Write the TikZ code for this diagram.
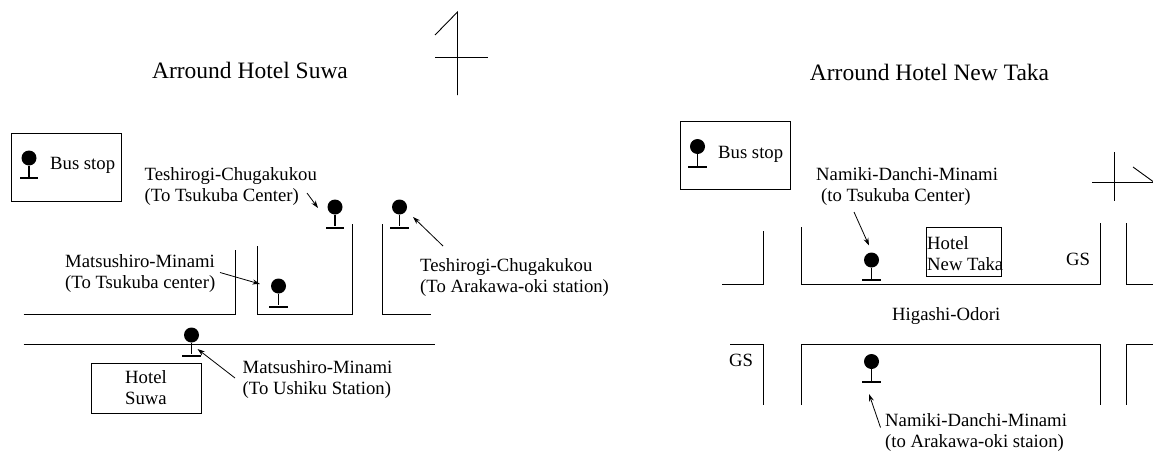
\documentclass[tikz,border=0pt]{standalone}
\usepackage{fontspec}
\setmainfont{Liberation Serif}
\usetikzlibrary{arrows.meta}
\tikzstyle{heading} = [inner sep=0pt, font=\fontsize{23.5}{26}\selectfont]
\tikzstyle{place} = [inner sep=0pt, align=left, anchor=west, font=\fontsize{18.7}{21}\selectfont]
\tikzstyle{hotel} = [draw, line width=0.9pt, inner sep=0pt, align=center, font=\fontsize{18.7}{21}\selectfont]
\tikzstyle{legend} = [draw, line width=0.9pt, inner sep=0pt]
\tikzstyle{stophead} = [circle, fill=black, inner sep=0pt, minimum size=15pt]
\tikzstyle{stopbase} = [rectangle, fill=black, inner sep=0pt, minimum width=18.6pt, minimum height=2pt]
\tikzstyle{pole} = [line width=1.8pt]
\tikzstyle{road} = [line width=0.9pt]
\tikzstyle{arrow} = [line width=0.8pt,-{Stealth[length=7.5pt,width=5pt]}]
\begin{document}
\begin{tikzpicture}[x=1pt,y=-1pt]
                 \useasboundingbox (0,0) rectangle (1153,450);
                 % left map
                 \node [heading] at (250,70) (title1) {Arround Hotel Suwa};
                 \draw [road] (435,35) -- (457.5,12) -- (457.5,95);
                 \draw [road] (435,57) -- (488,57);
                 \node [legend, minimum width=110pt, minimum height=68pt] at (66.7,167) (legend1) {};
                 \node [place] at (50,165) (legendtext1) {Bus stop};
                 \node [stophead] at (29,158) (head1) {};
                 \node [stopbase] at (29,178) (base1) {};
                 \node [stophead] at (335,207) (head2) {};
                 \node [stopbase] at (335,227.5) (base2) {};
                 \node [stophead] at (399.5,207) (head3) {};
                 \node [stopbase] at (399.5,227.5) (base3) {};
                 \node [stophead] at (278.5,286) (head4) {};
                 \node [stopbase] at (278.5,306.5) (base4) {};
                 \node [stophead] at (191.5,335) (head5) {};
                 \node [stopbase] at (191.5,355.5) (base5) {};
                 \draw [pole] (head1) -- (base1);
                 \draw [pole] (head2) -- (base2);
                 \draw [pole] (head3) -- (base3);
                 \draw [pole] (head4) -- (base4);
                 \draw [pole] (head5) -- (base5);
                 \draw [road] (23.5,314) -| (235,250);
                 \draw [road] (257.5,246) |- (352,314) -- (352,224);
                 \draw [road] (382,224) |- (430.5,314);
                 \draw [road] (23.5,344.5) -- (435,344.5);
                 \node [hotel, minimum width=110pt, minimum height=50pt] at (146,388) (hotel1) {Hotel\\Suwa};
                 \node [place] at (144.5,186.5) (label1) {Teshirogi-Chugakukou\\(To Tsukuba Center)};
                 \node [place] at (420,277.5) (label2) {Teshirogi-Chugakukou\\(To Arakawa-oki station)};
                 \node [place] at (65,273.5) (label3) {Matsushiro-Minami\\(To Tsukuba center)};
                 \node [place] at (242.5,379.5) (label4) {Matsushiro-Minami\\(To Ushiku Station)};
                 \coordinate (from1) at (307,193);
                 \coordinate (to1) at (318,208);
                 \coordinate (from2) at (443,246);
                 \coordinate (to2) at (413,217);
                 \coordinate (from3) at (220,272.5);
                 \coordinate (to3) at (260,284);
                 \coordinate (from4) at (235,378);
                 \coordinate (to4) at (197.5,349);
                 \draw [arrow] (from1) -- (to1);
                 \draw [arrow] (from2) -- (to2);
                 \draw [arrow] (from3) -- (to3);
                 \draw [arrow] (from4) -- (to4);
                 % right map
                 \node [heading] at (929.5,72) (title2) {Arround Hotel New Taka};
                 \draw [road] (1114.5,152) -- (1114.5,200.5);
                 \draw [road] (1092,182) -- (1153,182);
                 \draw [road] (1133,167) -- (1153,181.5);
                 \node [legend, minimum width=110pt, minimum height=67.5pt] at (735,155.5) (legend2) {};
                 \node [place] at (718,154) (legendtext2) {Bus stop};
                 \node [stophead] at (697.5,146.5) (head6) {};
                 \node [stopbase] at (697.5,167) (base6) {};
                 \node [stophead] at (871.5,260) (head7) {};
                 \node [stopbase] at (871.5,280) (base7) {};
                 \node [stophead] at (871.5,361.5) (head8) {};
                 \node [stopbase] at (871.5,382) (base8) {};
                 \draw [pole] (head6) -- (base6);
                 \draw [pole] (head7) -- (base7);
                 \draw [pole] (head8) -- (base8);
                 \draw [road] (722,284) -| (763.5,231);
                 \draw [road] (801.5,227) |- (1100,284) -- (1100,223);
                 \draw [road] (1126,223) |- (1153,284);
                 \draw [road] (730,344.5) -| (763.5,405);
                 \draw [road] (801.5,405) |- (1100,344.5) -- (1100,405);
                 \draw [road] (1153,344.5) -| (1126,405);
                 \node [hotel, minimum width=75.5pt, minimum height=49pt] at (964,251.5) (hotel2) {};
                 \node [place] at (927,254) (hoteltext2) {Hotel\\New Taka};
                 \node [place] at (1066,259) (gs1) {GS};
                 \node [place] at (729,360.5) (gs2) {GS};
                 \node [place] at (892,316) (street) {Higashi-Odori};
                 \node [place] at (816,186.5) (label5) {Namiki-Danchi-Minami\\\hspace*{5pt}(to Tsukuba Center)};
                 \node [place] at (885,432.5) (label6) {Namiki-Danchi-Minami\\(to Arakawa-oki staion)};
                 \coordinate (from5) at (854,212);
                 \coordinate (to5) at (869,245.5);
                 \coordinate (from6) at (880.5,427.5);
                 \coordinate (to6) at (869,394);
                 \draw [arrow] (from5) -- (to5);
                 \draw [arrow] (from6) -- (to6);
                 \end{tikzpicture}
\end{document}
